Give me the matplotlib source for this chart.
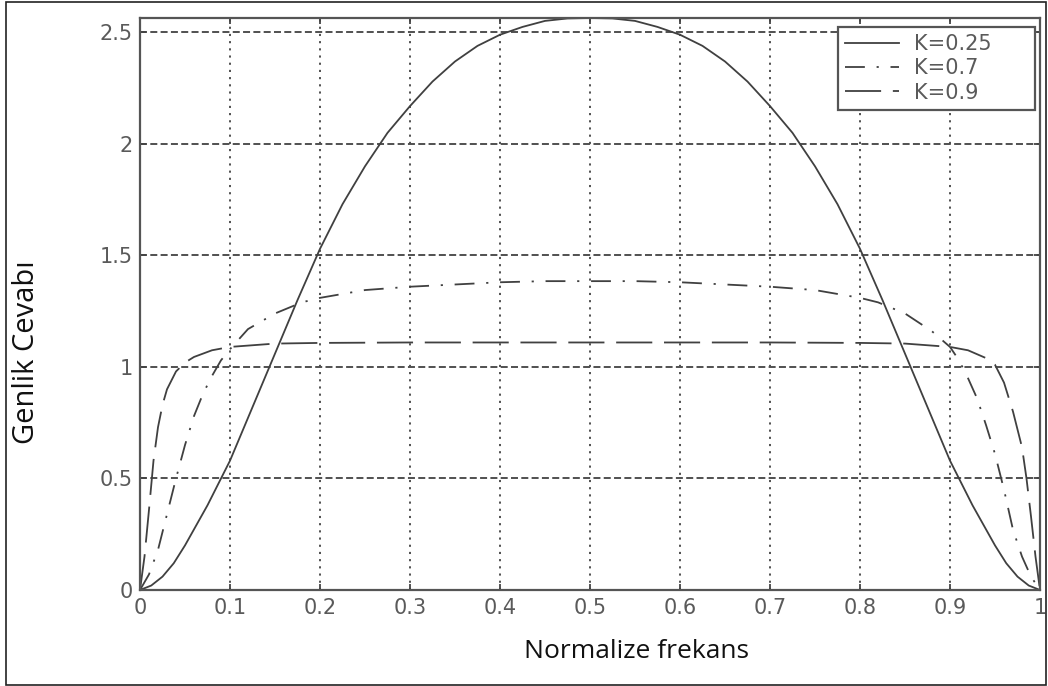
import numpy as np
import matplotlib
matplotlib.use("Agg")
import matplotlib.pyplot as plt
from matplotlib.patches import Rectangle

# values
x_k025 = [0, 0.0125, 0.025, 0.0375, 0.05, 0.0625, 0.075, 0.0875, 0.1, 0.125, 0.15, 0.175, 0.2,
          0.225, 0.25, 0.275, 0.3, 0.325, 0.35, 0.375, 0.4, 0.425, 0.45, 0.475, 0.5,
          0.525, 0.55, 0.575, 0.6, 0.625, 0.65, 0.675, 0.7, 0.725, 0.75, 0.775, 0.8,
          0.825, 0.85, 0.875, 0.9, 0.9125, 0.925, 0.9375, 0.95, 0.9625, 0.975, 0.9875, 1.0]
y_k025 = [0, 0.02, 0.06, 0.12, 0.2, 0.29, 0.38, 0.48, 0.58, 0.82, 1.06, 1.30, 1.53,
          1.73, 1.90, 2.05, 2.17, 2.28, 2.37, 2.44, 2.49, 2.525, 2.552, 2.563, 2.565,
          2.563, 2.552, 2.525, 2.49, 2.44, 2.37, 2.28, 2.17, 2.05, 1.90, 1.73, 1.53,
          1.30, 1.06, 0.82, 0.58, 0.48, 0.38, 0.29, 0.2, 0.12, 0.06, 0.02, 0]

x_k07 = [0, 0.01, 0.02, 0.03, 0.04, 0.05, 0.06, 0.07, 0.08, 0.09, 0.1, 0.12, 0.15, 0.18, 0.2,
         0.25, 0.3, 0.35, 0.4, 0.45, 0.5, 0.55, 0.6, 0.65, 0.7, 0.75, 0.8, 0.82, 0.85, 0.88,
         0.9, 0.91, 0.92, 0.93, 0.94, 0.95, 0.96, 0.97, 0.98, 0.99, 1.0]
y_k07 = [0, 0.07, 0.18, 0.34, 0.50, 0.65, 0.78, 0.88, 0.96, 1.03, 1.08, 1.17, 1.24, 1.29, 1.31,
         1.345, 1.36, 1.37, 1.38, 1.385, 1.385, 1.385, 1.38, 1.37, 1.36, 1.345, 1.31, 1.29, 1.24, 1.16,
         1.09, 1.03, 0.95, 0.86, 0.74, 0.61, 0.45, 0.27, 0.15, 0.06, 0]

x_k09 = [0, 0.005, 0.01, 0.015, 0.02, 0.025, 0.03, 0.04, 0.05, 0.06, 0.08, 0.1, 0.15, 0.2, 0.3,
         0.4, 0.5, 0.6, 0.7, 0.8, 0.85, 0.9, 0.92, 0.94, 0.95, 0.96, 0.97, 0.98, 0.985,
         0.99, 0.995, 1.0]
y_k09 = [0, 0.15, 0.36, 0.58, 0.73, 0.83, 0.90, 0.98, 1.02, 1.045, 1.075, 1.09, 1.105, 1.108, 1.11,
         1.11, 1.11, 1.11, 1.11, 1.108, 1.105, 1.09, 1.075, 1.04, 1.01, 0.93, 0.80, 0.64, 0.50,
         0.33, 0.15, 0]

series_labels = ["K=0.25", "K=0.7", "K=0.9"]
xticks = [0, 0.1, 0.2, 0.3, 0.4, 0.5, 0.6, 0.7, 0.8, 0.9, 1]
xtick_labels = ["0", "0.1", "0.2", "0.3", "0.4", "0.5", "0.6", "0.7", "0.8", "0.9", "1"]
yticks = [0, 0.5, 1, 1.5, 2, 2.5]
ytick_labels = ["0", "0.5", "1", "1.5", "2", "2.5"]

W, H = 1048, 686
fig = plt.figure(figsize=(W / 100, H / 100), dpi=100)
ax = fig.add_axes([140 / W, 1 - 590 / H, 900 / W, 572 / H])

line_col = "#404040"
ax.plot(x_k025, y_k025, color=line_col, lw=1.3, ls="-", label=series_labels[0])
ax.plot(x_k07, y_k07, color=line_col, lw=1.3, ls=(0, (11, 6.5, 1.2, 6.5)), label=series_labels[1])
ax.plot(x_k09, y_k09, color=line_col, lw=1.3, ls=(0, (20, 6.5)), label=series_labels[2])

ax.set_xlim(0, 1)
ax.set_ylim(0, 2.565)
ax.set_xticks(xticks)
ax.set_xticklabels(xtick_labels)
ax.set_yticks(yticks)
ax.set_yticklabels(ytick_labels)

grid_col = "#505050"
ax.xaxis.grid(True, color=grid_col, lw=1.4, ls=(0, (1.1, 2.6)))
ax.yaxis.grid(True, color=grid_col, lw=1.4, ls=(0, (3.6, 1.7)))
ax.set_axisbelow(True)

for s in ax.spines.values():
    s.set_color("#555555")
    s.set_linewidth(1.6)

tick_font = "DejaVu Sans"
ax.tick_params(direction="in", length=4.5, width=1.3, color="#444444",
               top=True, right=True, labelsize=15, labelcolor="#5a5a5a")
ax.tick_params(axis="x", pad=6)
ax.tick_params(axis="y", pad=5)
for lab in ax.get_xticklabels() + ax.get_yticklabels():
    lab.set_family(tick_font)

# legend box spans px 838..1035 horizontally, top at px 27
leg = ax.legend(loc="upper right", bbox_to_anchor=(698 / 900, 0.0, 197 / 900, 563 / 572),
                mode="expand", borderaxespad=0, fancybox=False,
                edgecolor="#555555", framealpha=1, handlelength=2.6, handletextpad=0.7,
                borderpad=0.35, labelspacing=0.2, prop={"family": tick_font, "size": 15})
leg.get_frame().set_linewidth(1.6)
for t in leg.get_texts():
    t.set_color("#5a5a5a")

fig.text(636 / W, 1 - 651 / H, "Normalize frekans", ha="center", va="center",
         fontsize=19, family="Open Sans", color="#111111")
fig.text(27 / W, 1 - 352 / H, "Genlik Cevabı", ha="center", va="center", rotation=90,
         fontsize=21, family="Open Sans", color="#111111")

# outer frame around the whole picture
fig.patches.append(Rectangle((6 / W, 1 / H), 1040 / W, 683 / H,
                             transform=fig.transFigure, fill=False, edgecolor="#222222", lw=1.2))

fig.savefig("out.png", dpi=100)
